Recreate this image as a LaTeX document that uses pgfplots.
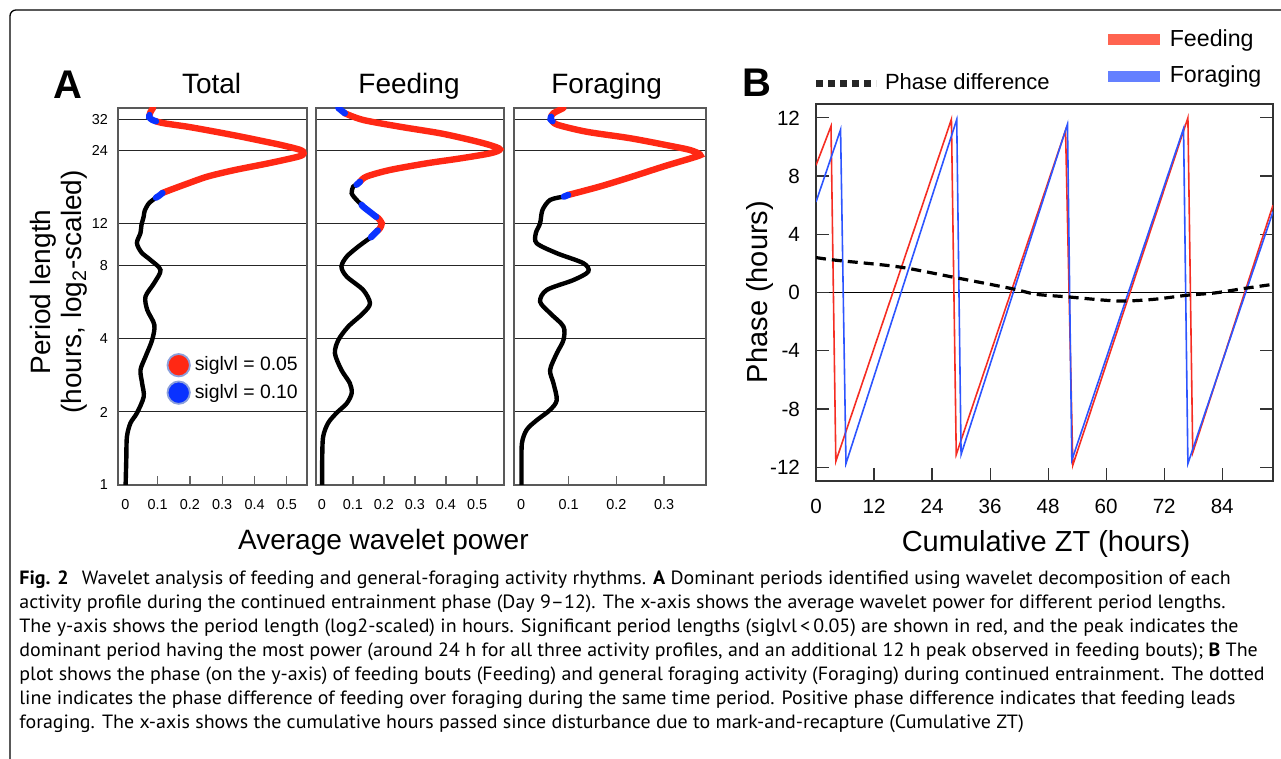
\documentclass[border=0pt]{standalone}
\usepackage{pgfplots}
\pgfplotsset{compat=1.18}
\usepackage{fontspec}
\setmainfont{Liberation Sans}
\newfontfamily\capfont[Ligatures=TeX, FakeStretch=1.04]{PT Sans}

\definecolor{sigred}{RGB}{255,40,20}
\definecolor{sigblue}{RGB}{10,50,255}
\definecolor{ringblue}{RGB}{140,160,220}
\definecolor{feedred}{RGB}{245,45,35}
\definecolor{foragblue}{RGB}{45,85,255}
\definecolor{legred}{RGB}{255,100,80}
\definecolor{legblue}{RGB}{100,128,255}

\tikzset{
  blkline/.style={black, line width=2.2pt, smooth, line cap=round},
  redline/.style={sigred, line width=3.2pt, smooth, line cap=round},
  bluline/.style={sigblue, line width=3.2pt, smooth, line cap=round},
}

\begin{document}
\begin{tikzpicture}
\path[use as bounding box] (0,0) rectangle (640.5pt,379.5pt);
\draw[line width=0.65pt, rounded corners=3pt] (640.5pt,374.5pt) -- (5pt,374.5pt) -- (5pt,-1pt);

% ---------- panel A ----------
\node[font=\fontsize{20}{22}\selectfont\bfseries] at (34.2pt,337pt) {A};
\node[anchor=base, font=\fontsize{14}{16}\selectfont] at (105.8pt,332.9pt) {Total};
\node[anchor=base, font=\fontsize{14}{16}\selectfont] at (204.5pt,332.9pt) {Feeding};
\node[anchor=base, font=\fontsize{14}{16}\selectfont] at (303.3pt,332.9pt) {Foraging};
\node[anchor=base, font=\fontsize{14}{16}\selectfont] at (191.7pt,104.5pt) {Average wavelet power};
\node[rotate=90, align=center, font=\fontsize{14}{15.5}\selectfont] at (29.5pt,233.5pt)
  {Period length\\(hours, log\textsubscript{2}-scaled)};

% Total
\begin{axis}[at={(59pt,137pt)}, anchor=south west, scale only axis,
  width=94.5pt, height=188.5pt,
  ymode=log, log basis y=2, ymin=1, ymax=35.85,
  ytick={1,2,4,8,12,24,32}, yticklabels={1,2,4,8,12,24,32},
  ymajorgrids, major grid style={black!85, line width=0.5pt},
  ytick style={draw=none},
  xtick pos=left, tick align=inside, major tick length=4.5pt,
  xtick style={gray!80!black, line width=0.6pt},
  axis line style={gray!70!black, line width=0.7pt},
  ticklabel style={font=\fontsize{7.2}{8}\selectfont},
  xticklabel style={yshift=-3.5pt}, yticklabel style={xshift=-1.5pt},
  xmin=-0.0226, xmax=0.5625,
  xtick={0,0.1,0.2,0.3,0.4,0.5}, xticklabels={0,0.1,0.2,0.3,0.4,0.5},
  legend style={at={(0.255,0.352)}, anchor=north west,
    draw=none, fill=none, inner sep=0pt, row sep=1.2pt,
    font=\fontsize{9.7}{11}\selectfont},
  legend cell align=left]
\addlegendimage{legend image code/.code={\draw[fill=sigred, draw=ringblue, line width=0.9pt] (0.25cm,0pt) circle (5.6pt);}}
\addlegendentry{siglvl = 0.05}
\addlegendimage{legend image code/.code={\draw[fill=sigblue, draw=ringblue, line width=0.9pt] (0.25cm,0pt) circle (5.6pt);}}
\addlegendentry{siglvl = 0.10}
\addplot[blkline] coordinates {
(0.095,15.3) (0.073,14.5) (0.060,13.5) (0.057,12.8) (0.050,11.8) (0.047,10.94)
(0.036,9.95) (0.050,9.1) (0.078,8.47) (0.109,7.70) (0.089,6.79) (0.0625,5.98)
(0.068,5.27) (0.090,4.57) (0.083,3.96) (0.0625,3.38) (0.047,2.98) (0.052,2.63)
(0.057,2.31) (0.036,1.98) (0.016,1.80) (0.005,1.58) (0.003,1.27) (0.001,1)};
\addplot[redline] coordinates {(0.086,35.85) (0.078,34.5) (0.075,33.5)};
\addplot[redline] coordinates {
(0.095,31.6) (0.120,31.0) (0.193,30.0) (0.280,28.6) (0.359,27.3) (0.430,26.1)
(0.484,25.2) (0.542,24.07) (0.552,23.3) (0.536,22.6) (0.443,21.2) (0.339,19.9)
(0.255,18.7) (0.193,17.5) (0.141,16.5) (0.115,16.0)};
\addplot[bluline] coordinates {(0.075,33.5) (0.074,32.8) (0.084,32.0) (0.095,31.6)};
\addplot[bluline] coordinates {(0.115,16.0) (0.105,15.6) (0.095,15.3)};
\end{axis}

% Feeding
\begin{axis}[at={(158pt,137pt)}, anchor=south west, scale only axis,
  width=94pt, height=188.5pt,
  ymode=log, log basis y=2, ymin=1, ymax=35.85,
  ytick={1,2,4,8,12,24,32}, yticklabels={},
  ymajorgrids, major grid style={black!85, line width=0.5pt},
  ytick style={draw=none},
  xtick pos=left, tick align=inside, major tick length=4.5pt,
  xtick style={gray!80!black, line width=0.6pt},
  axis line style={gray!70!black, line width=0.7pt},
  ticklabel style={font=\fontsize{7.2}{8}\selectfont},
  xticklabel style={yshift=-3.5pt},
  xmin=-0.019, xmax=0.587,
  xtick={0,0.1,0.2,0.3,0.4,0.5}, xticklabels={0,0.1,0.2,0.3,0.4,0.5}]
\addplot[blkline] coordinates {(0.112,17.3) (0.101,17.0) (0.096,15.95) (0.112,14.97) (0.128,14.3)};
\addplot[blkline] coordinates {
(0.158,10.5) (0.117,9.61) (0.080,8.74) (0.063,7.95) (0.080,7.23) (0.133,6.37)
(0.155,5.61) (0.133,5.11) (0.085,4.50) (0.053,3.96) (0.042,3.49) (0.063,2.98)
(0.090,2.63) (0.096,2.39) (0.080,2.17) (0.047,1.98) (0.020,1.80) (0.004,1.58)
(0.001,1.27) (0.001,1)};
\addplot[redline] coordinates {
(0.074,34.1) (0.133,32) (0.252,30.0) (0.381,28.2) (0.477,26.5) (0.542,25.2)
(0.574,24.2) (0.542,23.3) (0.445,22.2) (0.338,21.2) (0.219,19.9) (0.144,18.7)
(0.123,17.8)};
\addplot[redline] coordinates {(0.175,12.75) (0.182,12.58) (0.193,12.0) (0.187,11.44) (0.180,11.2)};
\addplot[bluline] coordinates {(0.053,35.85) (0.063,35.0) (0.074,34.1)};
\addplot[bluline] coordinates {(0.123,17.8) (0.112,17.3)};
\addplot[bluline] coordinates {(0.128,14.3) (0.133,14.05) (0.160,13.2) (0.175,12.75)};
\addplot[bluline] coordinates {(0.180,11.2) (0.171,10.91) (0.158,10.5)};
\end{axis}

% Foraging
\begin{axis}[at={(257pt,137pt)}, anchor=south west, scale only axis,
  width=96pt, height=188.5pt,
  ymode=log, log basis y=2, ymin=1, ymax=35.85,
  ytick={1,2,4,8,12,24,32}, yticklabels={},
  ymajorgrids, major grid style={black!85, line width=0.5pt},
  ytick style={draw=none},
  xtick pos=left, tick align=inside, major tick length=4.5pt,
  xtick style={gray!80!black, line width=0.6pt},
  axis line style={gray!70!black, line width=0.7pt},
  ticklabel style={font=\fontsize{7.2}{8}\selectfont},
  xticklabel style={yshift=-3.5pt},
  xmin=-0.0147, xmax=0.388,
  xtick={0,0.1,0.2,0.3}, xticklabels={0,0.1,0.2,0.3}]
\addplot[blkline] coordinates {
(0.090,15.45) (0.061,14.97) (0.045,13.6) (0.040,12.0) (0.031,10.91) (0.033,9.92)
(0.075,9.03) (0.131,8.21) (0.141,7.58) (0.110,7.0) (0.054,6.37) (0.040,5.70)
(0.061,5.11) (0.089,4.50) (0.089,3.96) (0.075,3.49) (0.061,2.98) (0.068,2.63)
(0.075,2.24) (0.061,2.04) (0.033,1.85) (0.012,1.69) (0.002,1.49) (0.001,1.2) (0.001,1)};
\addplot[redline] coordinates {(0.089,35.85) (0.068,34.1) (0.063,33.0)};
\addplot[redline] coordinates {
(0.066,31.6) (0.078,30.5) (0.138,28.6) (0.229,26.9) (0.305,25.2) (0.354,24.07)
(0.375,23.1) (0.368,22.6) (0.300,20.6) (0.230,18.6) (0.165,17.0) (0.099,15.7)};
\addplot[bluline] coordinates {(0.063,33.0) (0.062,32.2) (0.066,31.6)};
\addplot[bluline] coordinates {(0.099,15.7) (0.090,15.45)};
\end{axis}

% ---------- panel B ----------
\node[font=\fontsize{20}{22}\selectfont\bfseries] at (378.6pt,338pt) {B};
\draw[black!85, line width=3.5pt, dash pattern=on 3.6pt off 2.4pt] (408pt,337.8pt) -- (438pt,337.8pt);
\node[anchor=west, inner sep=0pt, font=\fontsize{11}{13}\selectfont] at (442.3pt,338.9pt) {Phase difference};
\draw[legred, line width=5.5pt] (554pt,359.5pt) -- (579.8pt,359.5pt);
\draw[legblue, line width=5.5pt] (554pt,341.2pt) -- (579.8pt,341.2pt);
\node[anchor=west, inner sep=0pt, font=\fontsize{11.6}{13}\selectfont] at (584.7pt,359.3pt) {Feeding};
\node[anchor=west, inner sep=0pt, font=\fontsize{11.6}{13}\selectfont] at (584.7pt,341.4pt) {Foraging};
\node[anchor=base, font=\fontsize{14.5}{16}\selectfont] at (523pt,103.5pt) {Cumulative ZT (hours)};
\node[rotate=90, font=\fontsize{14.5}{16}\selectfont] at (380pt,233.5pt) {Phase (hours)};

\begin{axis}[at={(408pt,139pt)}, anchor=south west, scale only axis,
  width=228.5pt, height=188.5pt,
  xmin=0, xmax=94.5, ymin=-12.95, ymax=12.95,
  xtick={0,12,24,36,48,60,72,84}, ytick={-12,-8,-4,0,4,8,12},
  xtick pos=left, ytick pos=both, tick align=inside, major tick length=6.5pt,
  tick style={black!80, line width=0.6pt},
  axis line style={black!80, line width=0.7pt},
  ticklabel style={font=\fontsize{10.3}{12}\selectfont},
  /pgf/number format/assume math mode=true,
  xticklabel style={yshift=-5.5pt}, yticklabel style={xshift=-4.5pt},
  extra y ticks={0}, extra y tick labels={},
  extra y tick style={grid=major, major grid style={black, line width=0.5pt}}]
\addplot[feedred, line width=0.8pt] coordinates {
(0,8.74) (3.1,11.42) (4.1,-11.6) (28.0,11.9) (29.0,-11.13) (51.6,11.14)
(53.1,-11.86) (76.9,12.0) (77.9,-11.0) (94.5,6.0)};
\addplot[foragblue, line width=0.8pt] coordinates {
(0,6.22) (5.08,11.19) (6.2,-11.75) (29.1,11.88) (30.0,-11.13) (52.0,11.56)
(52.9,-11.52) (76.0,11.26) (76.9,-11.75) (94.5,5.55)};
\addplot[black, line width=1.6pt, dash pattern=on 5pt off 3pt, smooth] coordinates {
(0,2.40) (4.0,2.22) (17.1,1.76) (28.7,1.03) (40.4,0.27) (45.5,-0.12) (52.0,-0.30)
(62.2,-0.58) (69.5,-0.48) (76.7,-0.19) (82.5,-0.03) (88.4,0.27) (94.5,0.56)};
\end{axis}

% ---------- caption ----------
\node[anchor=base west, inner sep=0pt] at (9.5pt,87.4pt) {\parbox[t]{700pt}{\capfont\fontsize{9.6}{12}\selectfont
\textbf{Fig. 2}\hspace{4pt} Wavelet analysis of feeding and general-foraging activity rhythms. \textbf{A} Dominant periods identified using wavelet decomposition of each\\
activity profile during the continued entrainment phase (Day 9–12). The x-axis shows the average wavelet power for different period lengths.\\
The y-axis shows the period length (log2-scaled) in hours. Significant period lengths (siglvl\,<\,0.05) are shown in red, and the peak indicates the\\
dominant period having the most power (around 24 h for all three activity profiles, and an additional 12 h peak observed in feeding bouts); \textbf{B} The\\
plot shows the phase (on the y-axis) of feeding bouts (Feeding) and general foraging activity (Foraging) during continued entrainment. The dotted\\
line indicates the phase difference of feeding over foraging during the same time period. Positive phase difference indicates that feeding leads\\
foraging. The x-axis shows the cumulative hours passed since disturbance due to mark-and-recapture (Cumulative ZT)}};
\end{tikzpicture}
\end{document}
